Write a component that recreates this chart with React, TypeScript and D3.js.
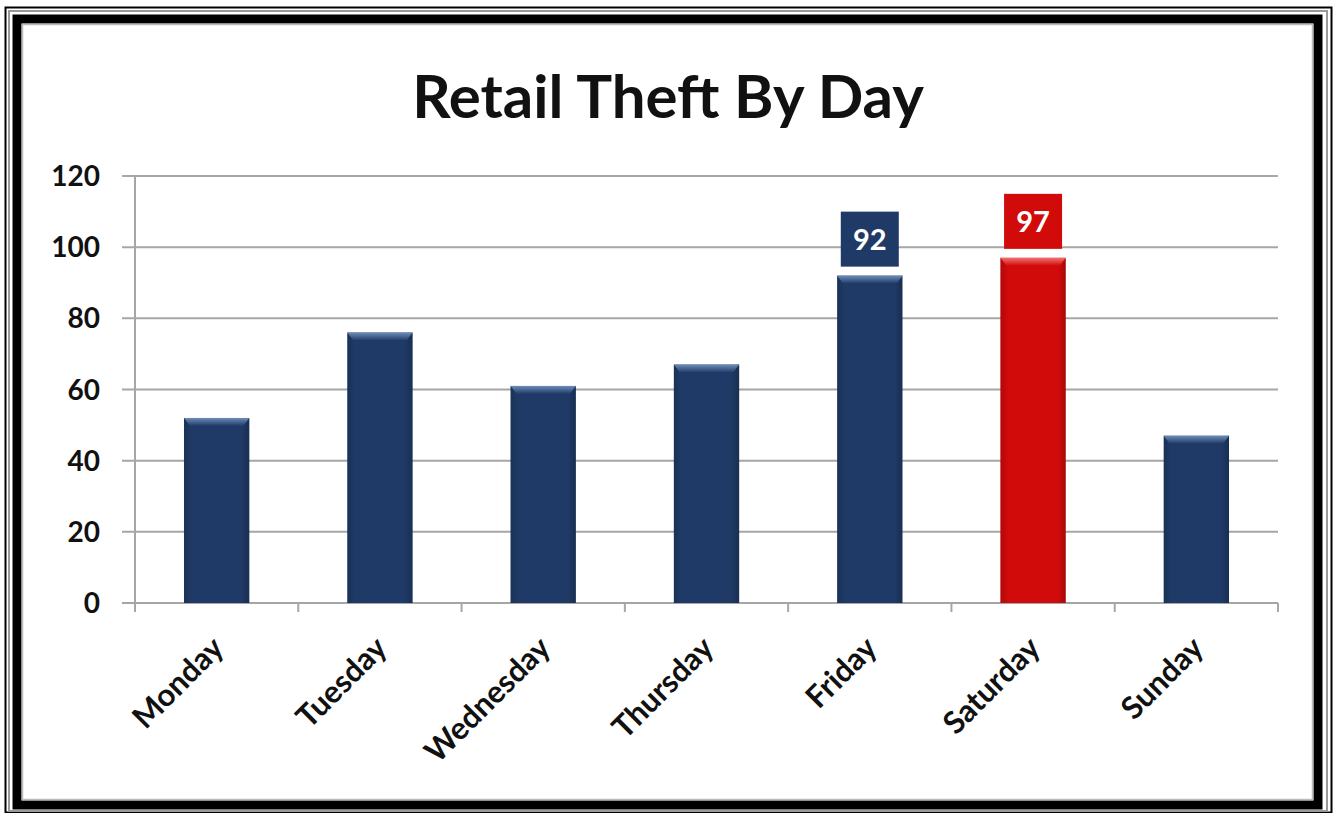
import React from "react";
import * as d3 from "d3";

const days = ["Monday", "Tuesday", "Wednesday", "Thursday", "Friday", "Saturday", "Sunday"];
const values = [52, 76, 61, 67, 92, 97, 47];
const labelled = ["Friday", "Saturday"];
const highlight = "Saturday";
const yTicks = [0, 20, 40, 60, 80, 100, 120];
const title = "Retail Theft By Day";

const W = 1334;
const H = 813;
const font = "Lato, 'Open Sans', sans-serif";

export default function App() {
  const x = d3.scaleBand<string>().domain(days).range([135, 1278]).paddingInner(0.6).paddingOuter(0.3);
  const xb = d3.scaleBand<string>().domain(days).range([135, 1278]);
  const y = d3.scaleLinear().domain([0, 120]).range([603, 176]);
  const navy = "#1f3a66";
  const red = "#d10a0a";

  return (
    <svg width={W} height={H} style={{ position: "absolute", left: 0, top: 0, background: "#fff" }}>
      <defs>
        <linearGradient id="bevNavy" x1="0" y1="0" x2="0" y2="1">
          <stop offset="0" stopColor="#6f8cb8" />
          <stop offset="1" stopColor={navy} />
        </linearGradient>
        <linearGradient id="bevRed" x1="0" y1="0" x2="0" y2="1">
          <stop offset="0" stopColor="#f27070" />
          <stop offset="1" stopColor={red} />
        </linearGradient>
        <linearGradient id="sideShade" x1="0" y1="0" x2="1" y2="0">
          <stop offset="0" stopColor="#000" stopOpacity="0.15" />
          <stop offset="0.12" stopColor="#000" stopOpacity="0" />
          <stop offset="0.88" stopColor="#000" stopOpacity="0" />
          <stop offset="1" stopColor="#000" stopOpacity="0.2" />
        </linearGradient>
      </defs>
      {/* frame */}
      <rect x={0} y={0} width={W} height={H} fill="#fff" />
      <rect x={5.5} y={7.5} width={1326} height={805} fill="none" stroke="#000" strokeWidth={2} />
      <rect x={9} y={11} width={1318} height={800} fill="none" stroke="#999" strokeWidth={2} />
      <rect x={17} y={19} width={1301} height={786} fill="none" stroke="#000" strokeWidth={9} />
      <rect x={22.5} y={24.5} width={1290} height={775} fill="none" stroke="#bbb" strokeWidth={1.5} />

      <text x={668} y={118} textAnchor="middle" fontFamily={font} fontWeight={700} fontSize={60} fill="#111">
        {title}
      </text>

      {/* gridlines */}
      {yTicks.map((t) => (
        <g key={t}>
          <line x1={122} x2={1278} y1={y(t)} y2={y(t)} stroke="#a6a6a6" strokeWidth={2} />
          <text x={100} y={y(t) + 10} textAnchor="end" fontFamily={font} fontWeight={700} fontSize={28} fill="#111">
            {t}
          </text>
        </g>
      ))}
      <line x1={135} x2={135} y1={176} y2={603} stroke="#a6a6a6" strokeWidth={2} />
      {days.map((d) => (
        <line key={d} x1={xb(d)!} x2={xb(d)!} y1={603} y2={612} stroke="#a6a6a6" strokeWidth={2} />
      ))}
      <line x1={1278} x2={1278} y1={603} y2={612} stroke="#a6a6a6" strokeWidth={2} />

      {/* bars */}
      {days.map((d, i) => {
        const isHi = d === highlight;
        const c = isHi ? red : navy;
        const bx = x(d)!;
        const bw = x.bandwidth();
        const top = y(values[i]);
        return (
          <g key={d}>
            <rect x={bx} y={top} width={bw} height={y(0) - top} fill={c} />
            <rect x={bx} y={top} width={bw} height={y(0) - top} fill="url(#sideShade)" />
            <polygon
              points={`${bx},${top} ${bx + bw},${top} ${bx + bw - 6},${top + 8} ${bx + 6},${top + 8}`}
              fill={isHi ? "url(#bevRed)" : "url(#bevNavy)"}
            />
          </g>
        );
      })}

      {/* data labels */}
      {days.map((d, i) => {
        if (!labelled.includes(d)) return null;
        const isHi = d === highlight;
        const cx = x(d)! + x.bandwidth() / 2;
        const top = y(values[i]);
        return (
          <g key={d}>
            <rect x={cx - 29} y={top - 64} width={58} height={55} fill={isHi ? red : navy} />
            <text x={cx} y={top - 26} textAnchor="middle" fontFamily={font} fontWeight={700} fontSize={29} fill="#fff">
              {values[i]}
            </text>
          </g>
        );
      })}

      {/* category labels */}
      {days.map((d) => {
        const cx = xb(d)! + xb.bandwidth() / 2 + 9;
        return (
          <text
            key={d}
            transform={`translate(${cx},${650}) rotate(-45)`}
            textAnchor="end"
            fontFamily={font}
            fontWeight={700}
            fontSize={31}
            fill="#111"
          >
            {d}
          </text>
        );
      })}
    </svg>
  );
}
